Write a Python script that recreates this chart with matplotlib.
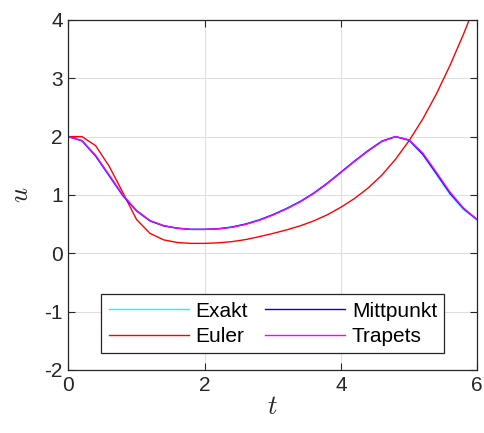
import matplotlib
matplotlib.use("Agg")
import matplotlib.pyplot as plt
import numpy as np

t = [0.0, 0.2, 0.4, 0.6, 0.8, 1.0, 1.2, 1.4, 1.6, 1.8, 2.0, 2.2, 2.4, 2.6, 2.8, 3.0,
     3.2, 3.4, 3.6, 3.8, 4.0, 4.2, 4.4, 4.6, 4.8, 5.0, 5.2, 5.4, 5.6, 5.8, 6.0]

exakt = [2.00, 1.92, 1.66, 1.32, 0.98, 0.72, 0.55, 0.47, 0.43, 0.41, 0.41, 0.42, 0.45, 0.505,
         0.575, 0.665, 0.77, 0.89, 1.035, 1.205, 1.395, 1.585, 1.765, 1.925, 2.00, 1.93, 1.69,
         1.35, 1.01, 0.75, 0.57]
euler = [2.00, 2.00, 1.845, 1.49, 1.04, 0.58, 0.34, 0.23, 0.185, 0.17, 0.17, 0.18, 0.20, 0.235,
         0.285, 0.34, 0.40, 0.47, 0.555, 0.66, 0.79, 0.94, 1.12, 1.34, 1.61, 1.93, 2.30, 2.73,
         3.22, 3.76, 4.35]
mittpunkt = [2.00, 1.93, 1.67, 1.33, 0.99, 0.73, 0.555, 0.47, 0.43, 0.41, 0.41, 0.42, 0.45, 0.50,
             0.57, 0.66, 0.765, 0.885, 1.03, 1.20, 1.39, 1.58, 1.76, 1.92, 2.00, 1.94,
             1.70, 1.37, 1.03, 0.765, 0.575]
trapets = [2.00, 1.93, 1.68, 1.34, 1.00, 0.735, 0.56, 0.475, 0.43, 0.41, 0.41, 0.42, 0.445, 0.495,
           0.565, 0.655, 0.76, 0.88, 1.025, 1.195, 1.385, 1.575, 1.755, 1.915, 2.00, 1.945,
           1.72, 1.39, 1.05, 0.775, 0.58]

xticks = [0, 2, 4, 6]
yticks = [-2, -1, 0, 1, 2, 3, 4]

plt.rcParams['font.family'] = ['Liberation Sans', 'DejaVu Sans']
plt.rcParams['mathtext.fontset'] = 'cm'

dark = '#262626'
fig = plt.figure(figsize=(4.85, 4.33), dpi=100)
ax = fig.add_axes([0.141, 0.1455, 0.843, 0.8085])

ax.plot(t, exakt, color=(0, 1, 1), lw=1.0, label='Exakt')
ax.plot(t, euler, color=(1, 0, 0), lw=1.0, label='Euler')
ax.plot(t, mittpunkt, color=(0, 0, 1), lw=1.0, label='Mittpunkt')
ax.plot(t, trapets, color=(1, 0, 1), lw=1.0, label='Trapets')

ax.set_xlim(0, 6)
ax.set_ylim(-2, 4)
ax.set_xticks(xticks)
ax.set_yticks(yticks)
ax.set_xticklabels([str(v) for v in xticks])
ax.set_yticklabels([str(v) for v in yticks])
ax.grid(True, color='#dfdfdf', lw=0.8)
ax.set_axisbelow(True)
ax.tick_params(direction='in', top=True, right=True, length=5, width=0.8,
               colors=dark, labelsize=15, pad=4)
for s in ax.spines.values():
    s.set_color(dark)
    s.set_linewidth(0.9)

ax.set_xlabel('$t$', fontsize=19, color=dark, labelpad=0)
ax.set_ylabel('$u$', fontsize=19, color=dark, labelpad=8)

leg = ax.legend(ncol=2, loc='lower center', bbox_to_anchor=(0.5, 0.048), borderaxespad=0,
                fontsize=15, handlelength=3.85, handletextpad=0.33, columnspacing=0.8,
                labelspacing=0.3, borderpad=0.35, fancybox=False, framealpha=1,
                edgecolor=dark)
leg.get_frame().set_linewidth(0.9)
for txt in leg.get_texts():
    txt.set_color('black')

fig.savefig('out.png', dpi=100)
